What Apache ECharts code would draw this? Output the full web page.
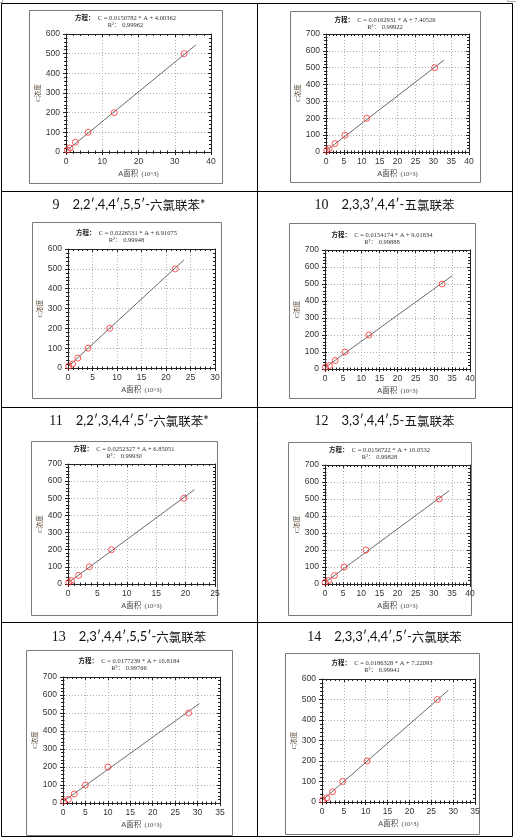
<!DOCTYPE html>
<html>
<head>
<meta charset="utf-8">
<script src="https://cdn.jsdelivr.net/npm/echarts@6/dist/echarts.min.js"></script>
<style>
  html, body { margin: 0; padding: 0; background: #fff; }
  #main { width: 516px; height: 840px; }
</style>
</head>
<body>
<div id="main"></div>
<script>
// 标题（前两格无标题）
const titleNums = ['', '', '9', '10', '11', '12', '13', '14'];
const titleNames = ['', '', '2,2′,4,4′,5,5′-六氯联苯*', '2,3,3′,4,4′-五氯联苯', '2,2′,3,4,4′,5′-六氯联苯*',
    '3,3′,4,4′,5-五氯联苯', '2,3′,4,4′,5,5′-六氯联苯', '2,3,3′,4,4′,5′-六氯联苯'];
// 方程与R²
const eqTexts = ['C = 0.0150782 * A + 4.00362', 'C = 0.0162931 * A + 7.40526', 'C = 0.0226531 * A + 6.91075',
    'C = 0.0154174 * A + 9.01834', 'C = 0.0252327 * A + 6.85051', 'C = 0.0156722 * A + 10.0532',
    'C = 0.0177239 * A + 10.8184', 'C = 0.0186328 * A + 7.22093'];
const r2Texts = ['0.99962', '0.99922', '0.99948', '0.99888', '0.99930', '0.99828', '0.99766', '0.99941'];
// 坐标轴范围
const xMaxes = [40, 40, 30, 40, 25, 40, 35, 35];
const xIntervals = [10, 5, 5, 5, 5, 5, 5, 5];
const yMaxes = [600, 700, 600, 700, 700, 700, 700, 600];
// 标准点：浓度 C 与面积 A (10^3)
const concLevels = [10, 20, 50, 100, 200, 500];
const areaPts = [
    [0.4, 1.1, 2.6, 6.1, 13.3, 32.6],
    [0.2, 0.9, 2.5, 5.3, 11.4, 30.4],
    [0.15, 0.95, 2.0, 4.1, 8.5, 21.9],
    [0.1, 1.2, 2.8, 5.5, 12.1, 32.3],
    [0.15, 0.6, 1.8, 3.6, 7.4, 19.7],
    [0.05, 1.0, 2.6, 5.3, 11.3, 31.5],
    [0.15, 1.2, 2.5, 5.0, 10.0, 28.0],
    [0.15, 1.1, 2.4, 4.7, 10.3, 26.4]
];
// 拟合直线端点
const fitLineX = [[0.4, 35.8], [0.2, 33.0], [0.15, 23.7], [0.1, 35.1], [0.15, 21.5], [0.05, 34.3], [0.15, 30.4], [0.15, 28.9]];
const fitLineY = [[10, 544], [10, 545], [10, 546], [10, 549], [10, 550], [10, 549], [10, 552], [10, 545]];

// 版面位置 [x, y, w, h]
const frames = [[29, 10, 193, 173], [290, 11, 190, 171], [32, 222, 189, 176], [289, 223, 186, 175],
    [31, 441, 186, 174], [288, 442, 183, 173], [26, 650, 206, 185], [285, 653, 194, 181]];
const plots = [[66, 34, 145, 118], [326, 34, 143, 118], [68, 249, 147, 119], [325, 250, 145, 119],
    [68, 464, 147, 120], [325, 465, 145, 119], [63, 677, 157, 126], [322, 679, 153, 123]];
const eqTop = [18, 20, 233, 235, 449, 450, 661, 663];
const titleY = [0, 0, 205, 205, 421, 421, 637, 637];
const cellCenterX = [129, 384.5];

const myChart = echarts.init(document.getElementById('main'), null, { renderer: 'canvas' });

const axisColor = '#222';
const grid = [], xAxis = [], yAxis = [], series = [], graphic = [];

// 表格线
graphic.push({ type: 'rect', shape: { x: 1.5, y: 3.5, width: 511, height: 833 }, style: { fill: 'none', stroke: '#000', lineWidth: 1 } });
graphic.push({ type: 'line', shape: { x1: 257.5, y1: 4, x2: 257.5, y2: 837 }, style: { stroke: '#000', lineWidth: 1 } });
[191.5, 407.5, 622.5].forEach(y => {
    graphic.push({ type: 'line', shape: { x1: 1, y1: y, x2: 513, y2: y }, style: { stroke: '#000', lineWidth: 1 } });
});
graphic.push({ type: 'polyline', shape: { points: [[2.5, 0], [2.5, 2.5], [0, 2.5]] }, style: { fill: 'none', stroke: '#aaa', lineWidth: 1 } });
graphic.push({ type: 'polyline', shape: { points: [[507.5, 0], [507.5, 1.5], [516, 1.5]] }, style: { fill: 'none', stroke: '#aaa', lineWidth: 1 } });

for (let i = 0; i < 8; i++) {
    const p = plots[i];
    const f = frames[i];
    grid.push({ left: p[0], top: p[1], width: p[2], height: p[3], containLabel: false, show: false });

    const common = {
        gridIndex: i, type: 'value', min: 0,
        axisLine: { show: true, onZero: false, lineStyle: { color: axisColor, width: 1 } },
        minorTick: { show: true, splitNumber: 5, length: 2, lineStyle: { color: axisColor, width: 1 } }
    };
    // 刻度线穿过轴线：外侧一组、内侧一组
    const innerTick = {
        axisLine: { show: false, onZero: false },
        axisTick: { show: true, inside: true, length: 2, lineStyle: { color: axisColor } },
        minorTick: { show: true, splitNumber: 5, length: 1.5, lineStyle: { color: axisColor } },
        axisLabel: { show: false }, splitLine: { show: false }
    };
    // x 轴：下（标签）、下内侧、上
    xAxis.push(Object.assign({}, common, {
        position: 'bottom', max: xMaxes[i], interval: xIntervals[i],
        axisTick: { show: true, inside: false, length: 3, lineStyle: { color: axisColor } },
        axisLabel: { show: true, margin: 5, fontSize: 8.5, fontFamily: 'Liberation Sans', color: '#333' },
        splitLine: { show: true, lineStyle: { type: [1, 2], color: '#b0b0b0', width: 1 } },
        name: '{a|A面积} {b|(10^3)}', nameLocation: 'middle', nameGap: 16,
        nameTextStyle: {
            rich: {
                a: { fontSize: 7.5, fontFamily: '"Liberation Sans", "Noto Sans CJK SC"', color: '#444' },
                b: { fontSize: 6.5, fontFamily: 'Liberation Serif', color: '#444' }
            }
        }
    }));
    xAxis.push(Object.assign({}, common, innerTick, { position: 'bottom', max: xMaxes[i], interval: xIntervals[i] }));
    xAxis.push(Object.assign({}, common, {
        position: 'top', max: xMaxes[i], interval: xIntervals[i],
        axisTick: { show: true, inside: true, length: 3, lineStyle: { color: axisColor } },
        axisLabel: { show: false }, splitLine: { show: false }
    }));
    // y 轴：左（标签）、左内侧、右
    yAxis.push(Object.assign({}, common, {
        position: 'left', max: yMaxes[i], interval: 100,
        axisTick: { show: true, inside: false, length: 3, lineStyle: { color: axisColor } },
        axisLabel: { show: true, margin: 6, fontSize: 8.5, fontFamily: 'Liberation Sans', color: '#333' },
        splitLine: { show: true, lineStyle: { type: [1, 2], color: '#b0b0b0', width: 1 } },
        name: 'C浓度', nameLocation: 'middle', nameGap: 24,
        nameTextStyle: { fontSize: 6.5, fontFamily: '"Liberation Serif", "Noto Sans CJK SC"', color: '#5a4a3a' }
    }));
    yAxis.push(Object.assign({}, common, innerTick, { position: 'left', max: yMaxes[i], interval: 100 }));
    yAxis.push(Object.assign({}, common, {
        position: 'right', max: yMaxes[i], interval: 100,
        axisTick: { show: true, inside: true, length: 3, lineStyle: { color: axisColor } },
        axisLabel: { show: false }, splitLine: { show: false }
    }));

    series.push({
        type: 'line', xAxisIndex: 3 * i, yAxisIndex: 3 * i,
        data: fitLineX[i].map((x, j) => [x, fitLineY[i][j]]),
        showSymbol: false, symbol: 'none', silent: true, z: 2,
        lineStyle: { color: '#444', width: 0.8 }
    });
    series.push({
        type: 'scatter', xAxisIndex: 3 * i, yAxisIndex: 3 * i,
        data: areaPts[i].map((a, j) => [a, concLevels[j]]),
        symbol: 'circle', symbolSize: 6, z: 3,
        itemStyle: { color: 'rgba(0,0,0,0)', borderColor: '#ff3030', borderWidth: 1 }
    });

    // 图框
    graphic.push({ type: 'rect', shape: { x: f[0] + 0.5, y: f[1] + 0.5, width: f[2], height: f[3] },
        style: { fill: 'none', stroke: '#7a7a7a', lineWidth: 1 } });
    // 方程
    const cx = f[0] + f[2] / 2;
    graphic.push({ type: 'text', x: cx, y: eqTop[i], style: {
        text: '{h|方程：} {e|' + eqTexts[i] + '}', align: 'center', verticalAlign: 'middle',
        rich: {
            h: { fontSize: 6.5, fontWeight: 'bold', fontFamily: 'Noto Sans CJK SC', fill: '#222' },
            e: { fontSize: 6.5, fontFamily: 'Liberation Serif', fill: '#333' }
        }
    } });
    graphic.push({ type: 'text', x: cx, y: eqTop[i] + 7.5, style: {
        text: 'R²： ' + r2Texts[i], align: 'center', verticalAlign: 'middle',
        fontSize: 6.5, fontFamily: '"Liberation Serif", "Noto Sans CJK SC"', fill: '#333'
    } });
    // 标题
    if (titleNums[i]) {
        const m = titleNames[i].match(/^(.*-)(.*?)(\*?)$/);
        graphic.push({ type: 'text', x: cellCenterX[i % 2], y: titleY[i], style: {
            text: '{n|' + titleNums[i] + '}{s|' + m[1] + '}{c|' + m[2] + '}{s|' + m[3] + '}',
            align: 'center', verticalAlign: 'middle',
            rich: {
                n: { fontSize: 14, fontFamily: 'Liberation Serif', fill: '#111', padding: [0, 13, 0, 0] },
                s: { fontSize: 13, fontFamily: 'Lato', fill: '#111' },
                c: { fontSize: 12.5, fontFamily: 'Noto Sans CJK SC', fill: '#111' }
            }
        } });
    }
}

myChart.setOption({
    animation: false,
    backgroundColor: '#fff',
    grid: grid,
    xAxis: xAxis,
    yAxis: yAxis,
    series: series,
    graphic: graphic
});
window.addEventListener('resize', myChart.resize);
</script>
</body>
</html>
